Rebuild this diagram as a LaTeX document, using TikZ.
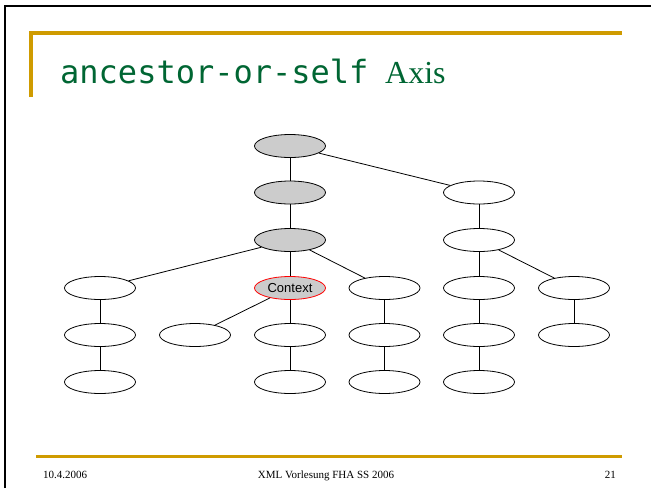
\documentclass[tikz,border=0pt]{standalone}
\usepackage{fontspec}
\setmainfont{Liberation Serif}
\newfontfamily\titlemono{DejaVu Sans Mono}
\newfontfamily\arialfont{Liberation Sans}
\usetikzlibrary{shapes.geometric}
\definecolor{slidegold}{RGB}{207,155,0}
\definecolor{titlegreen}{RGB}{0,102,51}
\definecolor{nodegray}{RGB}{204,204,204}
\begin{document}
\begin{tikzpicture}[x=1pt,y=-1pt,
  tn/.style={ellipse, draw=black, line width=0.8pt, fill=white, minimum width=71pt, minimum height=23pt, inner sep=0pt, font=\arialfont\fontsize{13}{13}\selectfont},
  anc/.style={tn, fill=nodegray},
  ctx/.style={tn, fill=nodegray, draw=red},
  edge/.style={line width=0.8pt},
  foot/.style={inner sep=0pt, anchor=base, font=\fontsize{11}{11}\selectfont}]
\useasboundingbox (0,0) rectangle (651,488);
\fill[white] (0,0) rectangle (651,488);
% slide frame
\draw[line width=2.5pt] (5,488) -- (5,6) -- (651,6);
% gold decorations
\draw[slidegold, line width=4pt] (31,97) -- (31,33) -- (622,33);
\draw[slidegold, line width=3pt] (36,456) -- (622,456);
% title
\node[anchor=base west, inner sep=0pt, text=titlegreen, font=\titlemono\fontsize{32}{32}\selectfont] (t1) at (60,83) {ancestor-or-self};
\node[anchor=base west, inner sep=0pt, text=titlegreen, font=\fontsize{32}{32}\selectfont] (t2) at (385,83) {Axis};
% footer
\node[foot, anchor=base west] (f1) at (43,478) {10.4.2006};
\node[foot] (f2) at (326,478) {XML Vorlesung FHA SS 2006};
\node[foot, anchor=base east] (f3) at (616,478) {21};
% tree
\node[anc] (r) at (290,146) {};
\node[anc] (a2) at (290,192.5) {};
\node[tn] (b1) at (479,192.5) {};
\node[anc] (a3) at (290,240) {};
\node[tn] (b2) at (479,240) {};
\node[tn] (c1) at (100,288) {};
\node[ctx] (ctx) at (290,288) {Context};
\node[tn] (c3) at (384.5,288) {};
\node[tn] (c4) at (479,288) {};
\node[tn] (c5) at (574,288) {};
\node[tn] (d1) at (100,335) {};
\node[tn] (d2) at (195,335) {};
\node[tn] (d3) at (290,335) {};
\node[tn] (d4) at (384.5,335) {};
\node[tn] (d5) at (479,335) {};
\node[tn] (d6) at (574,335) {};
\node[tn] (e1) at (100,382) {};
\node[tn] (e3) at (290,382) {};
\node[tn] (e4) at (384.5,382) {};
\node[tn] (e5) at (479,382) {};
\draw[edge] (r) -- (a2);
\draw[edge] (r) -- (b1);
\draw[edge] (a2) -- (a3);
\draw[edge] (b1) -- (b2);
\draw[edge] (a3) -- (c1);
\draw[edge] (a3) -- (ctx);
\draw[edge] (a3) -- (c3);
\draw[edge] (b2) -- (c4);
\draw[edge] (b2) -- (c5);
\draw[edge] (c1) -- (d1);
\draw[edge] (ctx) -- (d2);
\draw[edge] (ctx) -- (d3);
\draw[edge] (c3) -- (d4);
\draw[edge] (c4) -- (d5);
\draw[edge] (c5) -- (d6);
\draw[edge] (d1) -- (e1);
\draw[edge] (d3) -- (e3);
\draw[edge] (d4) -- (e4);
\draw[edge] (d5) -- (e5);
\end{tikzpicture}
\end{document}
